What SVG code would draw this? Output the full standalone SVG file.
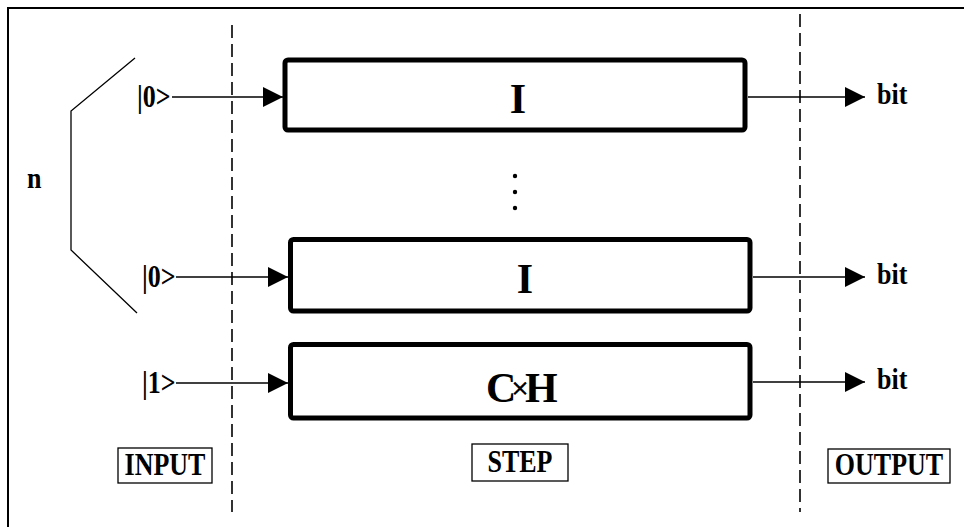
<svg xmlns="http://www.w3.org/2000/svg" width="964" height="527" viewBox="0 0 964 527">
  <defs>
    <style>
      .frame { fill: none; stroke: #000; stroke-width: 2; }
      .dash { fill: none; stroke: #000; stroke-width: 1.6; stroke-dasharray: 13 6; }
      .wire { fill: none; stroke: #000; stroke-width: 1.3; }
      .gate { fill: #fff; stroke: #000; stroke-width: 5; }
      .tag { fill: #fff; stroke: #000; stroke-width: 1.3; }
      .lbl { font-family: "Liberation Serif", "Times New Roman", serif; font-weight: bold; font-size: 26px; fill: #000; }
      .op { font-family: "Liberation Serif", "Times New Roman", serif; font-weight: bold; font-size: 42px; fill: #000; }
    </style>
    <marker id="head" viewBox="0 0 20 20" refX="20" refY="10" markerWidth="20" markerHeight="20" markerUnits="userSpaceOnUse" orient="auto">
      <path d="M0,0 L20,10 L0,20 Z" fill="#000"/>
    </marker>
  </defs>

  <rect width="964" height="527" fill="#fff"/>

  <!-- outer frame (top and left edges) -->
  <path class="frame" d="M8,527 V8 H964"/>

  <!-- section separators -->
  <line class="dash" x1="232" y1="25" x2="232" y2="512"/>
  <line class="dash" x1="800" y1="14" x2="800" y2="512"/>

  <!-- brace grouping the n qubit lines -->
  <path class="wire" d="M135,58 L71,111 V250 L137,313"/>
  <text class="lbl" transform="translate(27,188) scale(1,1.15)">n</text>

  <!-- connectors -->
  <g id="connectors">
    <line class="wire" x1="172" y1="97" x2="283" y2="97" marker-end="url(#head)"/>
    <line class="wire" x1="176" y1="277" x2="288" y2="277" marker-end="url(#head)"/>
    <line class="wire" x1="176" y1="383" x2="288" y2="383" marker-end="url(#head)"/>
    <line class="wire" x1="748" y1="97" x2="865" y2="97" marker-end="url(#head)"/>
    <line class="wire" x1="753" y1="277" x2="865" y2="277" marker-end="url(#head)"/>
    <line class="wire" x1="753" y1="382" x2="865" y2="382" marker-end="url(#head)"/>
  </g>

  <!-- input labels -->
  <g id="in0">
    <text class="lbl" transform="translate(137,107) scale(1,1.18)">|0&gt;</text>
  </g>
  <g id="in1">
    <text class="lbl" transform="translate(142,287) scale(1,1.18)">|0&gt;</text>
  </g>
  <g id="in2">
    <text class="lbl" transform="translate(142,393) scale(1,1.18)">|1&gt;</text>
  </g>

  <!-- gates -->
  <g id="gate0">
    <rect class="gate" x="285" y="60" width="460" height="70" rx="3"/>
    <text class="op" x="518" y="113" text-anchor="middle">I</text>
  </g>
  <g id="gate1">
    <rect class="gate" x="290.5" y="239.5" width="459.5" height="71.5" rx="3"/>
    <text class="op" x="525" y="293" text-anchor="middle">I</text>
  </g>
  <g id="gate2">
    <rect class="gate" x="290.5" y="344.5" width="459.5" height="73.5" rx="3"/>
    <text class="op" y="402"><tspan x="486">C</tspan><tspan x="511" font-size="32" dy="-3">×</tspan><tspan x="525" dy="3">H</tspan></text>
  </g>

  <!-- vertical ellipsis between the qubit lines -->
  <g id="ellipsis" fill="#000">
    <circle cx="515" cy="176" r="2.2"/>
    <circle cx="515" cy="192" r="2.2"/>
    <circle cx="515" cy="208" r="2.2"/>
  </g>

  <!-- outputs -->
  <g id="out0">
    <text class="lbl" transform="translate(877,104) scale(1,1.15)">bit</text>
  </g>
  <g id="out1">
    <text class="lbl" transform="translate(877,284) scale(1,1.15)">bit</text>
  </g>
  <g id="out2">
    <text class="lbl" transform="translate(877,389) scale(1,1.15)">bit</text>
  </g>

  <!-- section captions -->
  <g id="input-tag">
    <rect class="tag" x="118" y="448" width="94" height="35"/>
    <text class="lbl" transform="translate(165,475) scale(1,1.18)" text-anchor="middle">INPUT</text>
  </g>
  <g id="step-tag">
    <rect class="tag" x="472" y="444" width="96" height="37"/>
    <text class="lbl" transform="translate(520,472) scale(1,1.18)" text-anchor="middle">STEP</text>
  </g>
  <g id="output-tag">
    <rect class="tag" x="828" y="449" width="122" height="34"/>
    <text class="lbl" transform="translate(889,475) scale(1,1.18)" text-anchor="middle">OUTPUT</text>
  </g>
</svg>
